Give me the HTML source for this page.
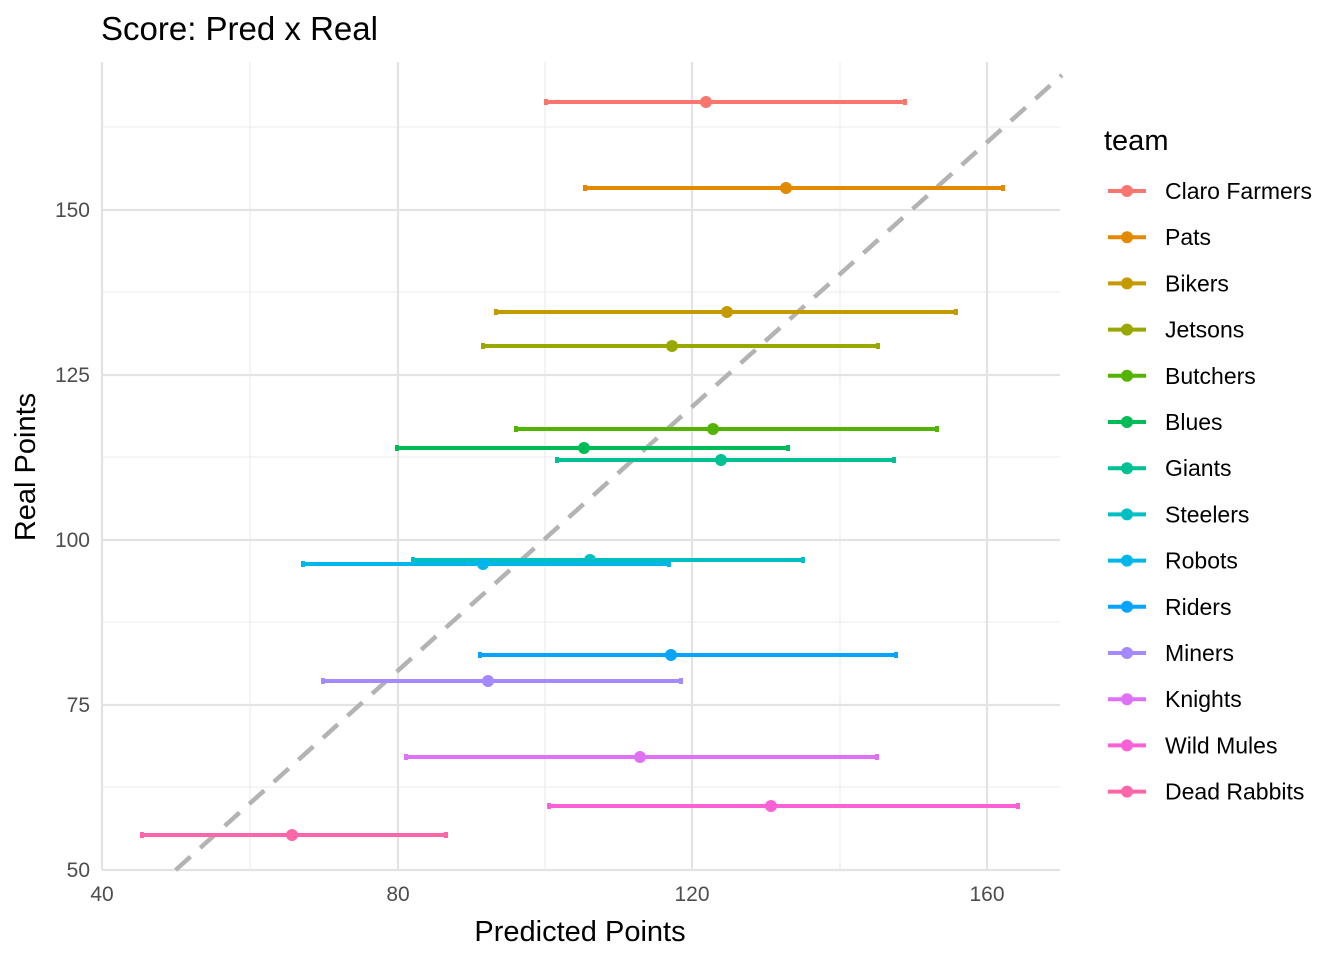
<!DOCTYPE html>
<html><head><meta charset="utf-8"><style>body{margin:0;background:#fff}svg{display:block;font-family:"Liberation Sans",Arial,sans-serif}</style></head>
<body>
<svg width="1344" height="960" viewBox="0 0 1344 960" xmlns="http://www.w3.org/2000/svg">
<rect width="1344" height="960" fill="#fff"/>
<text x="101" y="40" font-size="33" fill="#000">Score: Pred x Real</text>
<g stroke="#ebebeb" stroke-width="1.1">
<line x1="250" y1="62" x2="250" y2="870"/><line x1="545" y1="62" x2="545" y2="870"/><line x1="840" y1="62" x2="840" y2="870"/>
<line x1="102" y1="787" x2="1060" y2="787"/><line x1="102" y1="622" x2="1060" y2="622"/><line x1="102" y1="457" x2="1060" y2="457"/><line x1="102" y1="292" x2="1060" y2="292"/><line x1="102" y1="127" x2="1060" y2="127"/>
</g>
<g stroke="#e3e3e3" stroke-width="2.2">
<line x1="102" y1="62" x2="102" y2="870"/><line x1="398" y1="62" x2="398" y2="870"/><line x1="692" y1="62" x2="692" y2="870"/><line x1="987" y1="62" x2="987" y2="870"/>
<line x1="102" y1="870" x2="1060" y2="870"/><line x1="102" y1="705" x2="1060" y2="705"/><line x1="102" y1="540" x2="1060" y2="540"/><line x1="102" y1="375" x2="1060" y2="375"/><line x1="102" y1="210" x2="1060" y2="210"/>
</g>
<line x1="175.6" y1="870" x2="1062" y2="75" stroke="#b3b3b3" stroke-width="4.5" stroke-dasharray="20,13"/>
<g stroke-width="4">
<line x1="546" y1="102" x2="905" y2="102" stroke="#F8766D"/><line x1="546" y1="99" x2="546" y2="105" stroke="#F8766D"/><line x1="905" y1="99" x2="905" y2="105" stroke="#F8766D"/><circle cx="706" cy="102" r="6" fill="#F8766D" stroke="none"/>
<line x1="585" y1="188" x2="1003" y2="188" stroke="#E38900"/><line x1="585" y1="185" x2="585" y2="191" stroke="#E38900"/><line x1="1003" y1="185" x2="1003" y2="191" stroke="#E38900"/><circle cx="786" cy="188" r="6" fill="#E38900" stroke="none"/>
<line x1="496" y1="312" x2="956" y2="312" stroke="#C49A00"/><line x1="496" y1="309" x2="496" y2="315" stroke="#C49A00"/><line x1="956" y1="309" x2="956" y2="315" stroke="#C49A00"/><circle cx="727" cy="312" r="6" fill="#C49A00" stroke="none"/>
<line x1="483" y1="346" x2="878" y2="346" stroke="#99A800"/><line x1="483" y1="343" x2="483" y2="349" stroke="#99A800"/><line x1="878" y1="343" x2="878" y2="349" stroke="#99A800"/><circle cx="672" cy="346" r="6" fill="#99A800" stroke="none"/>
<line x1="516" y1="429" x2="937" y2="429" stroke="#53B400"/><line x1="516" y1="426" x2="516" y2="432" stroke="#53B400"/><line x1="937" y1="426" x2="937" y2="432" stroke="#53B400"/><circle cx="713" cy="429" r="6" fill="#53B400" stroke="none"/>
<line x1="397" y1="448" x2="788" y2="448" stroke="#00BC56"/><line x1="397" y1="445" x2="397" y2="451" stroke="#00BC56"/><line x1="788" y1="445" x2="788" y2="451" stroke="#00BC56"/><circle cx="584" cy="448" r="6" fill="#00BC56" stroke="none"/>
<line x1="557" y1="460" x2="894" y2="460" stroke="#00C094"/><line x1="557" y1="457" x2="557" y2="463" stroke="#00C094"/><line x1="894" y1="457" x2="894" y2="463" stroke="#00C094"/><circle cx="721" cy="460" r="6" fill="#00C094" stroke="none"/>
<line x1="413" y1="560" x2="803" y2="560" stroke="#00BFC4"/><line x1="413" y1="557" x2="413" y2="563" stroke="#00BFC4"/><line x1="803" y1="557" x2="803" y2="563" stroke="#00BFC4"/><circle cx="590" cy="560" r="6" fill="#00BFC4" stroke="none"/>
<line x1="303" y1="564" x2="669" y2="564" stroke="#00B6EB"/><line x1="303" y1="561" x2="303" y2="567" stroke="#00B6EB"/><line x1="669" y1="561" x2="669" y2="567" stroke="#00B6EB"/><circle cx="483" cy="564" r="6" fill="#00B6EB" stroke="none"/>
<line x1="480" y1="655" x2="896" y2="655" stroke="#06A4FF"/><line x1="480" y1="652" x2="480" y2="658" stroke="#06A4FF"/><line x1="896" y1="652" x2="896" y2="658" stroke="#06A4FF"/><circle cx="671" cy="655" r="6" fill="#06A4FF" stroke="none"/>
<line x1="323" y1="681" x2="681" y2="681" stroke="#A58AFF"/><line x1="323" y1="678" x2="323" y2="684" stroke="#A58AFF"/><line x1="681" y1="678" x2="681" y2="684" stroke="#A58AFF"/><circle cx="488" cy="681" r="6" fill="#A58AFF" stroke="none"/>
<line x1="406" y1="757" x2="877" y2="757" stroke="#DF70F8"/><line x1="406" y1="754" x2="406" y2="760" stroke="#DF70F8"/><line x1="877" y1="754" x2="877" y2="760" stroke="#DF70F8"/><circle cx="640" cy="757" r="6" fill="#DF70F8" stroke="none"/>
<line x1="549" y1="806" x2="1018" y2="806" stroke="#FB61D7"/><line x1="549" y1="803" x2="549" y2="809" stroke="#FB61D7"/><line x1="1018" y1="803" x2="1018" y2="809" stroke="#FB61D7"/><circle cx="771" cy="806" r="6" fill="#FB61D7" stroke="none"/>
<line x1="142" y1="835" x2="446" y2="835" stroke="#FF66A8"/><line x1="142" y1="832" x2="142" y2="838" stroke="#FF66A8"/><line x1="446" y1="832" x2="446" y2="838" stroke="#FF66A8"/><circle cx="292" cy="835" r="6" fill="#FF66A8" stroke="none"/>
</g>
<g font-size="21" fill="#4d4d4d" text-anchor="end">
<text x="90" y="877">50</text><text x="90" y="712">75</text><text x="90" y="547">100</text><text x="90" y="382">125</text><text x="90" y="217">150</text>
</g>
<g font-size="21" fill="#4d4d4d" text-anchor="middle">
<text x="102" y="901">40</text><text x="398" y="901">80</text><text x="692" y="901">120</text><text x="987" y="901">160</text>
</g>
<text x="580" y="941" font-size="29" text-anchor="middle">Predicted Points</text>
<text transform="translate(35,467) rotate(-90)" font-size="29" text-anchor="middle">Real Points</text>
<text x="1104" y="150" font-size="29">team</text>
<g font-size="23" stroke-width="4">
<line x1="1108" y1="191" x2="1146" y2="191" stroke="#F8766D"/><circle cx="1127" cy="191" r="6" fill="#F8766D"/><text x="1165" y="199">Claro Farmers</text>
<line x1="1108" y1="237.2" x2="1146" y2="237.2" stroke="#E38900"/><circle cx="1127" cy="237.2" r="6" fill="#E38900"/><text x="1165" y="245.2">Pats</text>
<line x1="1108" y1="283.4" x2="1146" y2="283.4" stroke="#C49A00"/><circle cx="1127" cy="283.4" r="6" fill="#C49A00"/><text x="1165" y="291.4">Bikers</text>
<line x1="1108" y1="329.6" x2="1146" y2="329.6" stroke="#99A800"/><circle cx="1127" cy="329.6" r="6" fill="#99A800"/><text x="1165" y="337.6">Jetsons</text>
<line x1="1108" y1="375.8" x2="1146" y2="375.8" stroke="#53B400"/><circle cx="1127" cy="375.8" r="6" fill="#53B400"/><text x="1165" y="383.8">Butchers</text>
<line x1="1108" y1="422" x2="1146" y2="422" stroke="#00BC56"/><circle cx="1127" cy="422" r="6" fill="#00BC56"/><text x="1165" y="430">Blues</text>
<line x1="1108" y1="468.2" x2="1146" y2="468.2" stroke="#00C094"/><circle cx="1127" cy="468.2" r="6" fill="#00C094"/><text x="1165" y="476.2">Giants</text>
<line x1="1108" y1="514.4" x2="1146" y2="514.4" stroke="#00BFC4"/><circle cx="1127" cy="514.4" r="6" fill="#00BFC4"/><text x="1165" y="522.4">Steelers</text>
<line x1="1108" y1="560.6" x2="1146" y2="560.6" stroke="#00B6EB"/><circle cx="1127" cy="560.6" r="6" fill="#00B6EB"/><text x="1165" y="568.6">Robots</text>
<line x1="1108" y1="606.8" x2="1146" y2="606.8" stroke="#06A4FF"/><circle cx="1127" cy="606.8" r="6" fill="#06A4FF"/><text x="1165" y="614.8">Riders</text>
<line x1="1108" y1="653" x2="1146" y2="653" stroke="#A58AFF"/><circle cx="1127" cy="653" r="6" fill="#A58AFF"/><text x="1165" y="661">Miners</text>
<line x1="1108" y1="699.2" x2="1146" y2="699.2" stroke="#DF70F8"/><circle cx="1127" cy="699.2" r="6" fill="#DF70F8"/><text x="1165" y="707.2">Knights</text>
<line x1="1108" y1="745.4" x2="1146" y2="745.4" stroke="#FB61D7"/><circle cx="1127" cy="745.4" r="6" fill="#FB61D7"/><text x="1165" y="753.4">Wild Mules</text>
<line x1="1108" y1="791.6" x2="1146" y2="791.6" stroke="#FF66A8"/><circle cx="1127" cy="791.6" r="6" fill="#FF66A8"/><text x="1165" y="799.6">Dead Rabbits</text>
</g>
</svg>
</body></html>
